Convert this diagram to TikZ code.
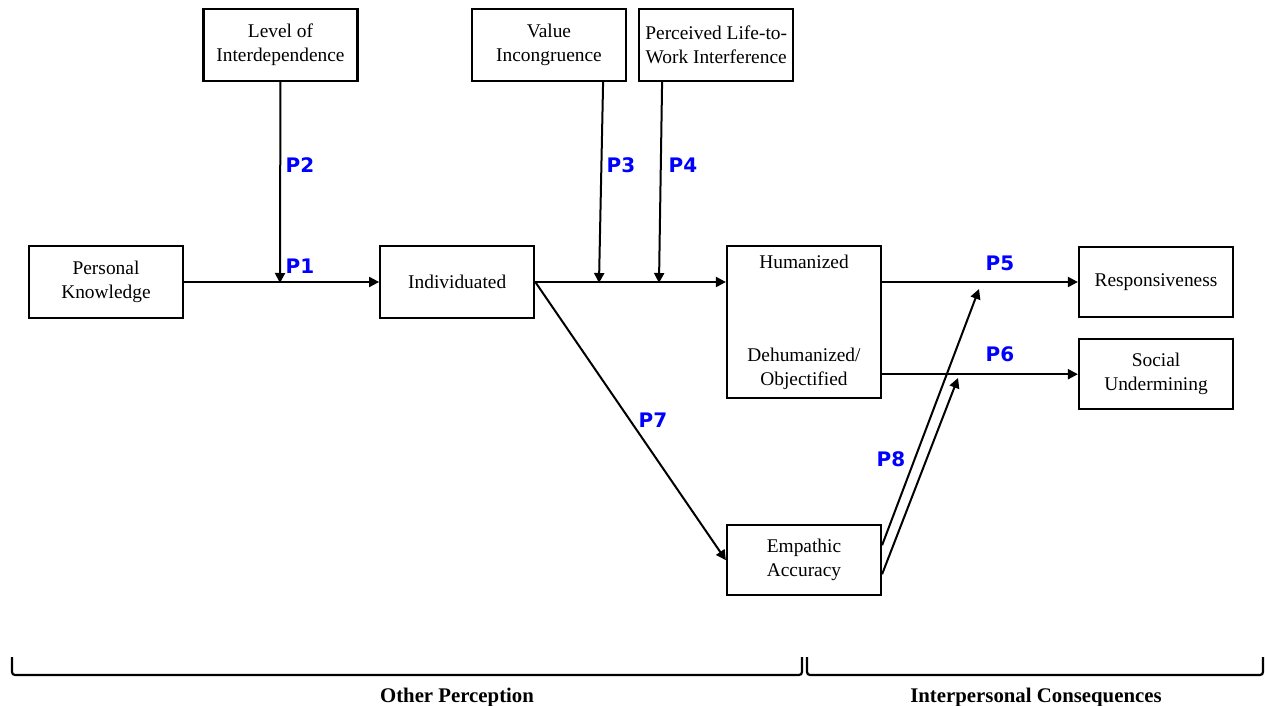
\documentclass[tikz,border=0pt]{standalone}
\usepackage{fontspec}
\setmainfont{Liberation Serif}
\newfontfamily\plabelfont{DejaVu Sans}
\usetikzlibrary{arrows.meta,positioning,calc}
\definecolor{ink}{RGB}{0,0,0}
\definecolor{cProp}{RGB}{0,0,255}
\tikzset{
  fac/.style={draw=ink,line width=1.1pt,minimum width=77pt,minimum height=36pt,
    inner sep=2pt,align=center,font=\fontsize{9.7}{12}\selectfont},
  ar/.style={draw=ink,line width=1pt,-{Triangle[length=5pt,width=5pt]}},
  tag/.style={font=\plabelfont\bfseries\fontsize{10}{12}\selectfont,text=cProp,inner sep=0pt},
  zone/.style={font=\bfseries\fontsize{10.4}{12}\selectfont,inner sep=0pt,anchor=base},
  brk/.style={draw=ink,line width=1.1pt,rounded corners=1.5pt},
}

\begin{document}
\begin{tikzpicture}[x=0.5pt,y=-0.5pt]
  \useasboundingbox (0,0) rectangle (1265,706);
  % factors
  \node[fac] (pk) at (106,282) {Personal\\Knowledge};
  \node[fac,right=97.5pt of pk] (ind) {Individuated};
  \node[fac] (lvl) at (280.5,45) {Level of\\Interdependence};
  \node[fac] (val) at (549,45) {Value\\Incongruence};
  \node[fac,right=5.5pt of val] (plw) {Perceived Life-to-\\Work Interference};
  \node[fac,minimum height=76pt] (hum) at (804,322)
    {Humanized\\[34.5pt]Dehumanized/\\Objectified};
  \node[fac,minimum height=35pt] (resp) at (1156,282) {Responsiveness};
  \node[fac,minimum height=35pt,below=10pt of resp] (soc) {Social\\Undermining};
  \node[fac,minimum height=35pt,below=62.5pt of hum] (emp) {Empathic\\Accuracy};
  % moderator targets
  \coordinate (m1) at (280,283);
  \coordinate (m3) at (599,283);
  \coordinate (m4) at (659,283);
  \coordinate (t5) at (979,289);
  \coordinate (t6) at (958,378);
  % paths
  \draw[ar] (pk) -- (ind);
  \draw[ar] (lvl) -- (m1);
  \draw[ar] (ind.east) -- (ind.east -| hum.west);
  \draw[ar] ([xshift=-12pt]val.south east) -- (m3);
  \draw[ar] ([xshift=12pt]plw.south west) -- (m4);
  \draw[ar] (hum.east |- resp.west) -- (resp.west);
  \draw[ar] (hum.east |- soc.west) -- (soc.west);
  \draw[ar] (ind.east) -- (emp.west);
  \draw[ar] ([yshift=7.5pt]emp.east) -- (t5);
  \draw[ar] ([yshift=-7pt]emp.east) -- (t6);
  % propositions
  \node[tag] (p1) at (300,266) {P1};
  \node[tag] (p2) at (300,165) {P2};
  \node[tag] (p3) at (621,165) {P3};
  \node[tag] (p4) at (683,165) {P4};
  \node[tag] (p5) at (1000,263) {P5};
  \node[tag] (p6) at (1000,354) {P6};
  \node[tag] (p7) at (653,420) {P7};
  \node[tag] (p8) at (891,459) {P8};
  % brackets
  \coordinate (oa) at (12,657);
  \coordinate (ob) at (802,657);
  \coordinate (ia) at (807,657);
  \coordinate (ib) at (1263,657);
  \draw[brk] (oa) -- ++(0,18) -| (ob);
  \draw[brk] (ia) -- ++(0,18) -| (ib);
  \node[zone] (op) at (457,702) {Other Perception};
  \node[zone] (ic) at (1036,702) {Interpersonal Consequences};
\end{tikzpicture}
\end{document}
